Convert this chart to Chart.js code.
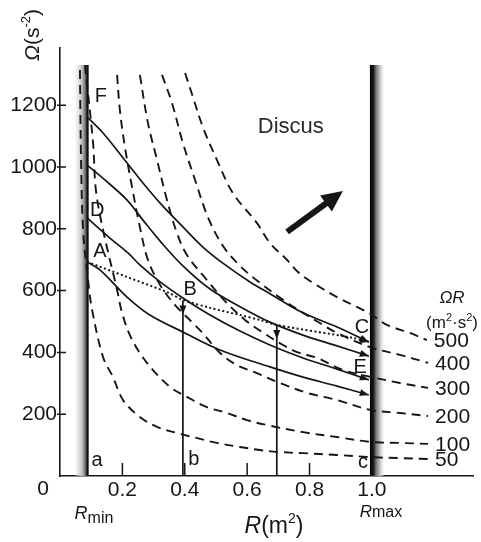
<!DOCTYPE html>
<html>
<head>
<meta charset="utf-8">
<script src="https://cdn.jsdelivr.net/npm/chart.js@4.4.1/dist/chart.umd.min.js"></script>
<style>
  html, body { margin: 0; padding: 0; background: #fff; }
  canvas { display: block; }
</style>
</head>
<body>
<canvas id="chart" width="481" height="542"></canvas>
<script>
// values: R in m², Ω in s⁻²
const xTicks = [0.2, 0.4, 0.6, 0.8, 1.0];
const yTicks = [200, 400, 600, 800, 1000, 1200];
const isoLabels = ['50', '100', '200', '300', '400', '500'];

// dashed lines of constant ΩR
const iso50 = [[0.064, 1314], [0.067, 1055], [0.074, 796], [0.090, 634], [0.103, 537], [0.138, 385], [0.170, 320], [0.202, 246], [0.256, 191], [0.311, 159], [0.375, 139], [0.426, 126], [0.503, 107], [0.577, 94], [0.641, 84], [0.696, 78], [0.779, 74], [0.888, 68], [1.0, 61], [1.09, 58], [1.18, 55]];
const iso100 = [[0.080, 1330], [0.106, 1078], [0.115, 926], [0.138, 796], [0.183, 602], [0.199, 528], [0.224, 456], [0.256, 398], [0.298, 343], [0.353, 288], [0.407, 256], [0.471, 223], [0.535, 204], [0.599, 181], [0.663, 165], [0.779, 142], [0.888, 126], [1.0, 110], [1.09, 107], [1.18, 104]];
const iso200 = [[0.183, 1298], [0.192, 1184], [0.208, 1065], [0.231, 935], [0.256, 806], [0.282, 699], [0.321, 618], [0.369, 553], [0.426, 495], [0.458, 462], [0.513, 398], [0.567, 359], [0.631, 333], [0.705, 301], [0.792, 269], [0.888, 246], [0.994, 214], [1.09, 204], [1.18, 194]];
const iso300 = [[0.256, 1298], [0.282, 1142], [0.311, 1023], [0.343, 893], [0.375, 786], [0.407, 715], [0.471, 634], [0.529, 566], [0.593, 505], [0.657, 460], [0.715, 424], [0.760, 401], [0.824, 382], [0.907, 343], [1.0, 320], [1.09, 301], [1.18, 285]];
const iso400 = [[0.327, 1298], [0.359, 1207], [0.394, 1078], [0.433, 958], [0.474, 838], [0.522, 745], [0.577, 680], [0.641, 625], [0.715, 570], [0.779, 528], [0.833, 495], [0.888, 463], [0.994, 417], [1.09, 392], [1.18, 366]];
const iso500 = [[0.401, 1304], [0.426, 1227], [0.458, 1129], [0.503, 1023], [0.554, 916], [0.631, 819], [0.673, 754], [0.728, 699], [0.763, 660], [0.811, 625], [0.888, 579], [0.952, 547], [1.0, 521], [1.048, 489], [1.122, 463], [1.176, 440]];

// solid paths from Rmin to Rmax
const pathF = [[0.087, 1162], [0.138, 1110], [0.215, 1013], [0.266, 948], [0.321, 883], [0.394, 806], [0.458, 741], [0.522, 689], [0.609, 628], [0.673, 590], [0.779, 528], [0.888, 482], [0.99, 434]];
const path1000 = [[0.087, 1006], [0.144, 958], [0.215, 893], [0.266, 828], [0.321, 760], [0.394, 680], [0.481, 605], [0.577, 548], [0.673, 498], [0.779, 456], [0.888, 421], [0.99, 388]];
const pathD = [[0.087, 835], [0.160, 770], [0.218, 722], [0.256, 683], [0.321, 628], [0.394, 576], [0.481, 521], [0.577, 469], [0.673, 424], [0.779, 382], [0.888, 346], [0.99, 311]];
const pathA = [[0.087, 693], [0.128, 667], [0.215, 579], [0.288, 521], [0.394, 466], [0.513, 408], [0.673, 353], [0.779, 320], [0.888, 291], [0.99, 262]];
// dotted A -> B -> C
const pathABC = [[0.087, 693], [0.215, 644], [0.343, 595], [0.394, 570], [0.481, 544], [0.577, 521], [0.641, 505], [0.695, 489], [0.939, 447], [0.99, 434]];
// vertical drops b and the unlabeled one
const lineB = [[0.394, 0], [0.394, 568]];
const lineMid = [[0.695, 0], [0.695, 489]];

const rMin = 0.087, rMax = 1.0, barTop = 1330;

const FONT = "'Liberation Sans', Arial, Helvetica, sans-serif";
const INK = '#161616';

const pts = arr => arr.map(([x, y]) => ({ x, y }));
const isoCurves = [iso50, iso100, iso200, iso300, iso400, iso500];
const solidPaths = [pathF, path1000, pathD, pathA];

const datasets = [];
isoCurves.forEach((c, i) => datasets.push({
  label: 'ΩR ' + isoLabels[i], data: pts(c), showLine: true, pointRadius: 0,
  borderColor: INK, borderWidth: 1.9, borderDash: [9, 6], tension: 0.35
}));
solidPaths.forEach(c => datasets.push({
  data: pts(c), showLine: true, pointRadius: 0,
  borderColor: INK, borderWidth: 1.7, tension: 0.35, arrow: true
}));
datasets.push({ data: pts(pathABC), showLine: true, pointRadius: 0, borderColor: INK, borderWidth: 2, borderDash: [2, 2.5], tension: 0.3, arrow: true });
[lineB, lineMid].forEach(c => datasets.push({ data: pts(c), showLine: true, pointRadius: 0, borderColor: INK, borderWidth: 1.7, tension: 0, drop: true }));

function runs(ctx, parts, x, y, align) {
  let w = 0;
  const f = p => (p[2] ? 'italic ' : '') + p[1] + 'px ' + FONT;
  parts.forEach(p => { ctx.font = f(p); w += ctx.measureText(p[0]).width; });
  let cx = align === 'left' ? x : x - w / 2;
  parts.forEach(p => {
    ctx.font = f(p);
    ctx.fillText(p[0], cx, y + (p[3] || 0));
    cx += ctx.measureText(p[0]).width;
  });
}

function head(ctx, x, y, ang, len, half) {
  ctx.save();
  ctx.translate(x, y);
  ctx.rotate(ang);
  ctx.beginPath();
  ctx.moveTo(0, 0);
  ctx.lineTo(-len, -half);
  ctx.lineTo(-len, half);
  ctx.closePath();
  ctx.fill();
  ctx.restore();
}

const decor = {
  id: 'decor',
  beforeDatasetsDraw(chart) {
    const { ctx, scales: { x, y } } = chart;
    const top = y.getPixelForValue(barTop), bot = y.getPixelForValue(0);
    ctx.save();
    // Rmin bar: light on the left, black edge on the right
    const xa = x.getPixelForValue(rMin);
    let g = ctx.createLinearGradient(xa - 12, 0, xa + 1.5, 0);
    g.addColorStop(0, 'rgba(230,230,230,0.3)');
    g.addColorStop(0.5, '#c2c2c2');
    g.addColorStop(0.75, '#707070');
    g.addColorStop(0.88, '#151515');
    g.addColorStop(1, '#000');
    ctx.fillStyle = g;
    ctx.fillRect(xa - 12, top, 13.5, bot - top);
    // Rmax bar: black edge on the left, fading to the right
    const xb = x.getPixelForValue(rMax);
    g = ctx.createLinearGradient(xb - 2, 0, xb + 12, 0);
    g.addColorStop(0, '#000');
    g.addColorStop(0.25, '#1a1a1a');
    g.addColorStop(0.45, '#7a7a7a');
    g.addColorStop(0.7, '#bdbdbd');
    g.addColorStop(1, 'rgba(235,235,235,0.3)');
    ctx.fillStyle = g;
    ctx.fillRect(xb - 2, top, 14, bot - top);
    ctx.restore();
  },
  afterDatasetsDraw(chart) {
    const { ctx, scales: { x, y } } = chart;
    const X = v => x.getPixelForValue(v), Y = v => y.getPixelForValue(v);
    ctx.save();
    ctx.fillStyle = INK;
    ctx.strokeStyle = INK;

    // arrowheads at the ends of the paths
    chart.data.datasets.forEach((ds, i) => {
      const el = chart.getDatasetMeta(i).data;
      if (ds.arrow) {
        const a = el[el.length - 2], b = el[el.length - 1];
        head(ctx, b.x, b.y, Math.atan2(b.y - a.y, b.x - a.x), 9, 3.5);
      }
      if (ds.drop) {
        const t = el[el.length - 1];
        head(ctx, t.x, t.y + 14, Math.PI / 2, 9, 3.5);
      }
    });

    // tick marks: y crossing the axis, x pointing inward
    ctx.lineWidth = 1.5;
    ctx.beginPath();
    yTicks.forEach(v => { ctx.moveTo(X(0) - 3, Y(v)); ctx.lineTo(X(0) + 6, Y(v)); });
    xTicks.forEach(v => { ctx.moveTo(X(v), Y(0)); ctx.lineTo(X(v), Y(0) - 13); });
    ctx.stroke();

    // thick arrow toward "Discus"
    const t0 = [X(0.728), Y(790)], t1 = [X(0.907), Y(922)];
    const ang = Math.atan2(t1[1] - t0[1], t1[0] - t0[0]);
    ctx.lineWidth = 6;
    ctx.beginPath();
    ctx.moveTo(t0[0], t0[1]);
    ctx.lineTo(t1[0] - 16 * Math.cos(ang), t1[1] - 16 * Math.sin(ang));
    ctx.stroke();
    head(ctx, t1[0], t1[1], ang, 21, 10);

    // labels inside the plot
    ctx.textBaseline = 'middle';
    const letters = [['F', 0.131, 1227], ['D', 0.119, 858], ['A', 0.128, 725], ['B', 0.417, 605],
      ['C', 0.968, 479], ['E', 0.962, 350], ['a', 0.119, 49], ['b', 0.429, 55], ['c', 0.971, 45]];
    ctx.font = '20px ' + FONT;
    ctx.textAlign = 'center';
    letters.forEach(([s, r, w]) => ctx.fillText(s, X(r), Y(w)));

    ctx.font = '22px ' + FONT;
    ctx.fillStyle = '#2a2a2a';
    ctx.fillText('Discus', X(0.74), Y(1129));

    // labels of the dashed lines
    ctx.fillStyle = INK;
    ctx.textAlign = 'left';
    ctx.font = '21px ' + FONT;
    isoCurves.forEach((c, i) => {
      const [r, w] = c[c.length - 1];
      ctx.fillText(isoLabels[i], X(r) + 7, Y(w) + 1);
    });

    ctx.textBaseline = 'alphabetic';
    runs(ctx, [['Ω', 17, true], ['R', 17, true]], 452, 303);
    runs(ctx, [['(m', 17], ['2', 11, false, -7], ['·s', 17], ['2', 11, false, -7], [')', 17]], 452, 328);

    // axis texts
    ctx.textBaseline = 'middle';
    ctx.font = '21px ' + FONT;
    ctx.textAlign = 'center';
    ctx.fillText('0', 43, 489);
    ctx.textAlign = 'left';
    ctx.textBaseline = 'alphabetic';
    runs(ctx, [['R', 18, true], ['min', 16, false, 4]], 94, 519);
    runs(ctx, [['R', 17, true], ['max', 16]], 381, 517);
    runs(ctx, [['R', 23, true], ['(m', 23], ['2', 14, false, -10], [')', 23]], 274, 533);

    ctx.save();
    ctx.translate(31, 35);
    ctx.rotate(-Math.PI / 2);
    runs(ctx, [['Ω', 21, true], ['(s', 21], ['-2', 13, false, -9], [')', 21]], 0, 8);
    ctx.restore();

    ctx.restore();
  }
};

new Chart(document.getElementById('chart').getContext('2d'), {
  type: 'scatter',
  data: { datasets },
  options: {
    responsive: false,
    animation: false,
    devicePixelRatio: 1,
    layout: { padding: { top: 48, right: 8, left: 0, bottom: 0 } },
    plugins: { legend: { display: false }, tooltip: { enabled: false } },
    scales: {
      x: {
        type: 'linear', min: 0, max: 1.324,
        afterFit: s => { s.height = 66; },
        afterBuildTicks: s => { s.ticks = xTicks.map(v => ({ value: v })); },
        grid: { display: false, drawTicks: false, tickLength: 0 },
        border: { display: true, color: INK, width: 1.6 },
        ticks: {
          autoSkip: false, maxRotation: 0, padding: 2, color: INK,
          font: { family: FONT, size: 21 },
          callback: v => v.toFixed(1)
        }
      },
      y: {
        type: 'linear', min: 0, max: 1385,
        afterFit: s => { s.width = 60; },
        afterBuildTicks: s => { s.ticks = yTicks.map(v => ({ value: v })); },
        grid: { display: false, drawTicks: false, tickLength: 0 },
        border: { display: true, color: INK, width: 1.6 },
        ticks: {
          autoSkip: false, padding: 3, color: INK,
          font: { family: FONT, size: 21 },
          callback: v => String(v)
        }
      }
    }
  },
  plugins: [decor]
});
</script>
</body>
</html>
